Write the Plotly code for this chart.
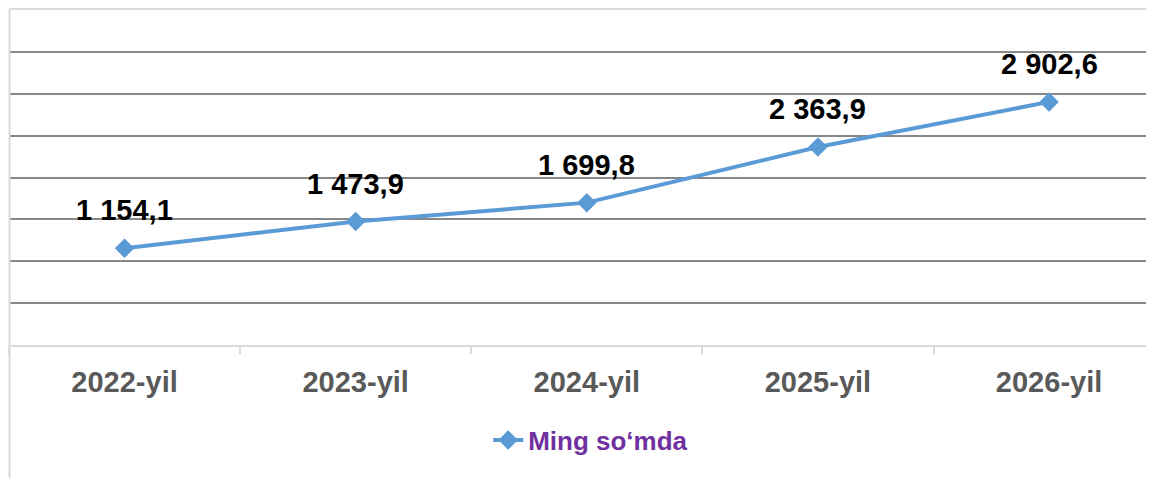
import plotly.graph_objects as go

categories = ["2022-yil", "2023-yil", "2024-yil", "2025-yil", "2026-yil"]
values = [1154.1, 1473.9, 1699.8, 2363.9, 2902.6]
value_labels = ["1 154,1", "1 473,9", "1 699,8", "2 363,9", "2 902,6"]
series_name = "Ming so‘mda"
grid_values = [500, 1000, 1500, 2000, 2500, 3000, 3500]

LINE = "#5B9BD5"
FONT = "Liberation Sans, Arial, sans-serif"

fig = go.Figure()
fig.add_trace(go.Scatter(
    x=categories, y=values, name="<b>%s</b>" % series_name, mode="lines+markers",
    line=dict(color=LINE, width=4),
    marker=dict(symbol="diamond", size=15, color=LINE),
    cliponaxis=False,
))

for c, v, t in zip(categories, values, value_labels):
    fig.add_annotation(x=c, y=v, text="<b>%s</b>" % t, showarrow=False,
                       yshift=38, yanchor="middle",
                       font=dict(family=FONT, size=29, color="#000000"))

# chart border on left side (extends to bottom)
fig.add_shape(type="line", xref="paper", yref="paper", x0=0.0005, x1=0.0005,
              y0=-133/335, y1=1, line=dict(color="#D9D9D9", width=2))

fig.update_layout(
    width=1146, height=470,
    margin=dict(l=1, r=0, t=2, b=133),
    paper_bgcolor="white", plot_bgcolor="white",
    showlegend=True,
    legend=dict(orientation="h", x=0.508, y=-0.284, xanchor="center", yanchor="middle",
                font=dict(family=FONT, size=26, color="#7030A0"),
                bgcolor="rgba(0,0,0,0)"),
    xaxis=dict(type="category", range=[-0.5, 4.454],
               showline=True, linecolor="#D9D9D9", linewidth=2, mirror=True,
               showgrid=False, tickson="boundaries", ticks="outside",
               ticklen=7, tickcolor="#D9D9D9", tickwidth=2,
               ticklabelstandoff=10,
               tickfont=dict(family=FONT, size=29, color="#595959"),
               tickprefix="<b>", ticksuffix="</b>"),
    yaxis=dict(range=[0, 4000], tickmode="array", tickvals=grid_values,
               showticklabels=False, showgrid=True, gridcolor="#878787", gridwidth=1.5,
               zeroline=False, showline=False, ticks=""),
)
fig.write_html("out.html")
